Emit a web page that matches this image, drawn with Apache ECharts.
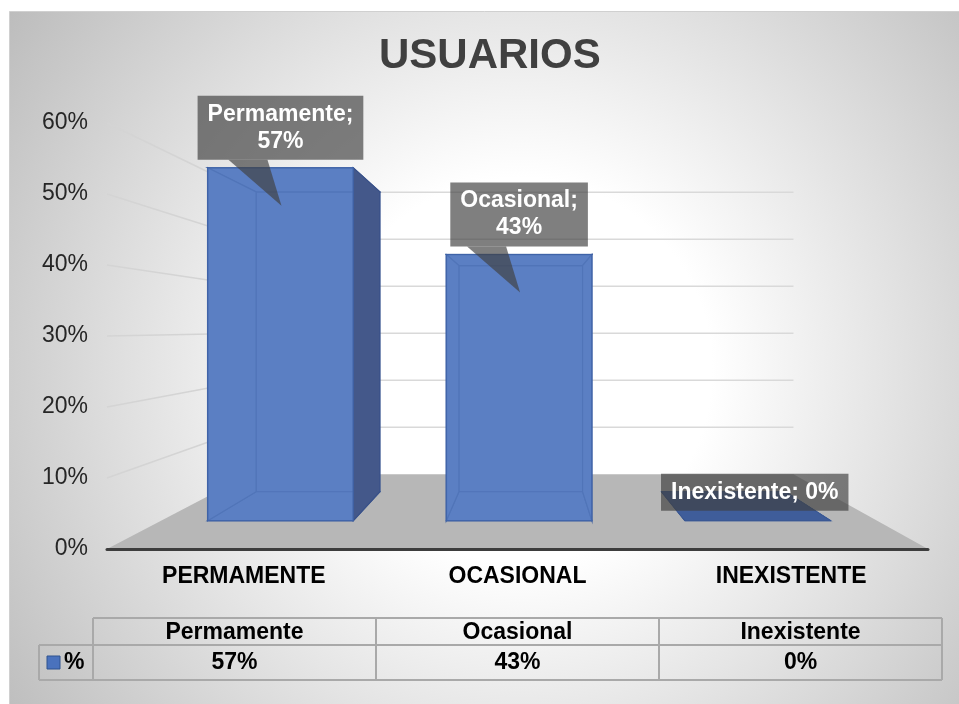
<!DOCTYPE html>
<html>
<head>
<meta charset="utf-8">
<script src="https://cdn.jsdelivr.net/npm/echarts@6/dist/echarts.min.js"></script>
<style>
  html, body { margin: 0; padding: 0; background: #fff; }
  #chart { width: 959px; height: 704px; }
</style>
</head>
<body>
<div id="chart"></div>
<script>
// data
const categories = ['PERMAMENTE', 'OCASIONAL', 'INEXISTENTE'];
const seriesNames = ['Permamente', 'Ocasional', 'Inexistente'];
const values = [57, 43, 0];
const yTicks = [0, 10, 20, 30, 40, 50, 60];
const seriesName = '%';

const FONT = '"Liberation Sans", Arial, sans-serif';

// fake 3D: points on the front plane are pulled towards a vanishing point
const VX = 530, VY = 328;
const F_FRONT = 0.872, F_BACK = 0.741, F_WALL = 0.662;
function proj(p, f) {
  return [VX + (p[0] - VX) * f, VY + (p[1] - VY) * f];
}

// floor + wall gridlines
function renderWall(params, api) {
  const cs = params.coordSys;
  const v = api.value(1);
  const y = api.coord([0, v])[1];
  const x0 = cs.x, x1 = cs.x + cs.width;
  const bl = proj([x0, y], F_WALL), br = proj([x1, y], F_WALL);
  const children = [];
  if (v === 0) {
    children.push({
      type: 'polygon',
      shape: { points: [[x0, y], [x1, y], br, bl] },
      style: { fill: '#b7b7b7' }
    });
  } else {
    children.push({
      type: 'line',
      shape: { x1: x0, y1: y, x2: bl[0], y2: bl[1] },
      style: { stroke: '#d4d4d4', lineWidth: 1.5 }
    });
    children.push({
      type: 'line',
      shape: { x1: bl[0], y1: bl[1], x2: br[0], y2: br[1] },
      style: { stroke: '#d9d9d9', lineWidth: 1.5 }
    });
  }
  return { type: 'group', children: children };
}

// 3D bars with callout labels
function renderBar(params, api) {
  const i = api.value(0), v = api.value(1);
  const base = api.coord([i, 0]), top = api.coord([i, v]);
  const hw = api.size([1, 0])[0] * 0.305;
  const L = base[0] - hw, R = base[0] + hw, yb = base[1], yt = top[1];
  const fr = {
    lb: proj([L, yb], F_FRONT), rb: proj([R, yb], F_FRONT),
    rt: proj([R, yt], F_FRONT), lt: proj([L, yt], F_FRONT)
  };
  const bk = {
    lb: proj([L, yb], F_BACK), rb: proj([R, yb], F_BACK),
    rt: proj([R, yt], F_BACK), lt: proj([L, yt], F_BACK)
  };
  const faces = {
    back: [bk.lb, bk.rb, bk.rt, bk.lt],
    bottom: [fr.lb, fr.rb, bk.rb, bk.lb],
    top: [fr.lt, fr.rt, bk.rt, bk.lt],
    left: [fr.lb, fr.lt, bk.lt, bk.lb],
    right: [fr.rb, fr.rt, bk.rt, bk.rb]
  };
  const visible = {
    back: false,
    bottom: yb < VY,
    top: yt > VY,
    left: L > VX,
    right: R < VX
  };
  const children = [];
  const edge = '#35589c';
  Object.keys(faces).forEach(function (k) {
    if (!visible[k]) {
      children.push({
        type: 'polygon',
        shape: { points: faces[k] },
        style: { fill: '#5a7fc1', stroke: edge, lineWidth: 1.2 }
      });
    }
  });
  if (visible.right) {
    children.push({
      type: 'polygon',
      shape: { points: faces.right },
      style: { fill: '#44588a', stroke: '#3b5288', lineWidth: 1.2 }
    });
  }
  if (visible.left) {
    children.push({
      type: 'polygon',
      shape: { points: faces.left },
      style: { fill: '#44588a', stroke: '#3b5288', lineWidth: 1.2 }
    });
  }
  if (visible.top) {
    children.push({
      type: 'polygon',
      shape: { points: faces.top },
      style: { fill: '#3f5d9a', stroke: '#3a5893', lineWidth: 1 }
    });
  }
  if (v > 0) {
    children.push({
      type: 'polygon',
      shape: { points: [fr.lb, fr.rb, fr.rt, fr.lt] },
      style: { fill: '#5b80c3', opacity: 0.72, stroke: '#3f63a8', lineWidth: 1.5 }
    });
  }

  // callout
  const cx = (fr.lt[0] + fr.rt[0]) / 2;
  const topY = fr.lt[1];
  const boxBottom = topY - (v > 0 ? 8 : 10);
  const label = v > 0
    ? seriesNames[i] + ';\n' + v + '%'
    : seriesNames[i] + '; ' + v + '%';
  if (v > 0) {
    children.push({
      type: 'polygon',
      shape: { points: [[cx - 52, boxBottom], [cx - 13, boxBottom], [cx + 1, topY + 38]] },
      style: { fill: 'rgba(64,64,64,0.67)' }
    });
  }
  children.push({
    type: 'text',
    x: v > 0 ? cx : cx - 3,
    y: boxBottom,
    style: {
      text: label,
      fill: '#ffffff',
      font: 'bold 23px ' + FONT,
      align: 'center',
      verticalAlign: 'bottom',
      lineHeight: 27,
      backgroundColor: 'rgba(64,64,64,0.67)',
      padding: [5, 10, 5, 10]
    }
  });
  return { type: 'group', children: children };
}

// data table under the chart
const tLeft = 93, colW = 283, rowTop = 618, rowMid = 645, rowBot = 680, legLeft = 39;
const lineStyle = { stroke: '#a9a9a9', lineWidth: 2 };
const tableEls = [
  { type: 'line', shape: { x1: tLeft, y1: rowTop, x2: tLeft + colW * 3, y2: rowTop }, style: lineStyle },
  { type: 'line', shape: { x1: legLeft, y1: rowMid, x2: tLeft + colW * 3, y2: rowMid }, style: lineStyle },
  { type: 'line', shape: { x1: legLeft, y1: rowBot, x2: tLeft + colW * 3, y2: rowBot }, style: lineStyle },
  { type: 'line', shape: { x1: legLeft, y1: rowMid, x2: legLeft, y2: rowBot }, style: lineStyle },
  { type: 'rect', shape: { x: 47, y: 656, width: 13, height: 13 }, style: { fill: '#4a72bd', stroke: '#2f528f', lineWidth: 1 } },
  { type: 'text', x: 64, y: (rowMid + rowBot) / 2, style: { text: seriesName, font: 'bold 23px ' + FONT, fill: '#000', align: 'left', verticalAlign: 'middle' } }
];
for (let c = 0; c <= seriesNames.length; c++) {
  tableEls.push({ type: 'line', shape: { x1: tLeft + colW * c, y1: rowTop, x2: tLeft + colW * c, y2: rowBot }, style: lineStyle });
}
seriesNames.forEach(function (name, c) {
  const mx = tLeft + colW * c + colW / 2;
  tableEls.push({ type: 'text', x: mx, y: (rowTop + rowMid) / 2 + 1, style: { text: name, font: 'bold 23px ' + FONT, fill: '#000', align: 'center', verticalAlign: 'middle' } });
  tableEls.push({ type: 'text', x: mx, y: (rowMid + rowBot) / 2, style: { text: values[c] + '%', font: 'bold 23px ' + FONT, fill: '#000', align: 'center', verticalAlign: 'middle' } });
});
tableEls.forEach(function (el) { el.z = 10; });

const background = {
  type: 'rect',
  z: -10,
  shape: { x: 9.5, y: 11.5, width: 960, height: 700 },
  style: {
    fill: new echarts.graphic.RadialGradient(520, 370, 640, [
      { offset: 0, color: '#ffffff' },
      { offset: 0.3, color: '#ffffff' },
      { offset: 1, color: '#bababa' }
    ], true),
    stroke: '#d0d0d0',
    lineWidth: 1
  }
};

var myChart = echarts.init(document.getElementById('chart'));
myChart.setOption({
  animation: false,
  title: {
    text: 'USUARIOS',
    left: 374,
    top: 30,
    textStyle: { fontSize: 42, fontWeight: 'bold', color: '#404040', fontFamily: FONT }
  },
  grid: {
    left: 107,
    right: 31,
    top: 123,
    bottom: 155,
    outerBoundsMode: 'none'
  },
  xAxis: {
    type: 'category',
    data: categories,
    z: 10,
    axisTick: { show: false },
    axisLine: { lineStyle: { color: '#3d3d3d', width: 3 } },
    axisLabel: { fontSize: 23, fontWeight: 'bold', color: '#000', fontFamily: FONT, margin: 16 }
  },
  yAxis: {
    type: 'value',
    min: 0,
    max: 60,
    interval: 10,
    axisLine: { show: false },
    axisTick: { show: false },
    splitLine: { show: false },
    axisLabel: { formatter: '{value}%', fontSize: 23, color: '#262626', fontFamily: FONT, margin: 19 }
  },
  graphic: { elements: [background].concat(tableEls) },
  series: [
    {
      type: 'custom',
      name: 'walls',
      z: 1,
      renderItem: renderWall,
      encode: { x: 0, y: 1 },
      data: yTicks.map(function (t) { return [0, t]; })
    },
    {
      type: 'custom',
      name: seriesName,
      z: 3,
      renderItem: renderBar,
      encode: { x: 0, y: 1 },
      data: values.map(function (v, i) { return [i, v]; })
    }
  ]
});
</script>
</body>
</html>
